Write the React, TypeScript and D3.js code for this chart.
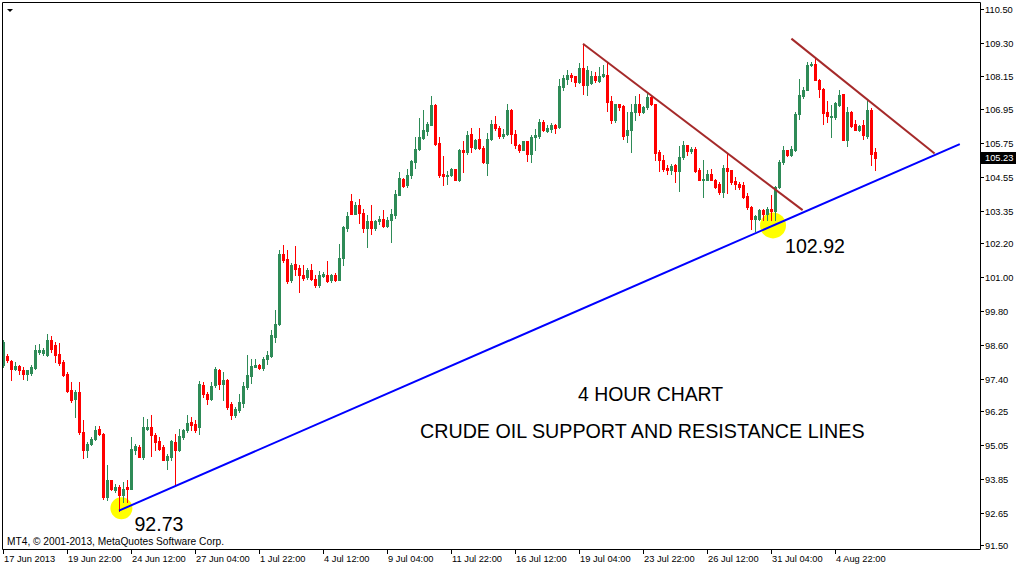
import React, { useEffect } from "react";
import * as d3 from "d3";

// [open, high, low, close] for each 4H bar, oldest first
const candles: [number, number, number, number][] = [
  [97.88, 98.79, 97.82, 98.71], [98.2, 98.29, 98.0, 98.08], [98.05, 98.08, 97.35, 97.76], [97.76, 98.0, 97.7, 97.84],
  [97.84, 97.88, 97.58, 97.73], [97.73, 97.82, 97.41, 97.58], [97.58, 97.72, 97.35, 97.7], [97.6, 97.88, 97.55, 97.82],
  [97.8, 98.59, 97.76, 98.41], [98.36, 98.65, 98.29, 98.44], [98.3, 98.5, 98.25, 98.44], [98.24, 98.98, 98.2, 98.79],
  [98.77, 98.91, 98.35, 98.47], [98.59, 98.71, 98.0, 98.24], [98.29, 98.67, 97.88, 97.96], [98.0, 98.08, 97.49, 97.53],
  [97.58, 97.64, 96.94, 96.97], [96.99, 97.29, 96.58, 96.66], [96.7, 97.0, 96.05, 96.94], [96.94, 97.29, 95.46, 95.52],
  [95.52, 95.93, 94.61, 94.87], [94.87, 95.16, 94.63, 95.08], [95.08, 95.34, 95.04, 95.28], [95.26, 95.72, 95.22, 95.58],
  [95.62, 95.72, 95.4, 95.46], [95.46, 95.48, 93.15, 93.21], [93.21, 94.33, 93.09, 93.8], [93.8, 93.83, 93.45, 93.51],
  [93.45, 93.69, 93.39, 93.57], [93.57, 93.63, 92.73, 93.27], [93.27, 93.74, 93.04, 93.51], [93.57, 93.83, 93.04, 93.48],
  [93.51, 95.34, 93.51, 94.93], [94.87, 95.1, 94.75, 95.01], [94.98, 95.04, 94.63, 94.63], [94.63, 96.05, 94.57, 95.69],
  [95.64, 95.99, 95.58, 95.69], [95.69, 96.11, 94.65, 95.4], [95.4, 95.48, 94.87, 95.16], [95.2, 95.34, 94.87, 94.93],
  [94.98, 95.04, 94.51, 94.51], [94.54, 94.75, 94.22, 94.66], [94.63, 95.22, 94.51, 95.2], [95.16, 95.46, 93.63, 94.87],
  [94.87, 95.64, 94.85, 95.36], [95.34, 95.64, 95.28, 95.6], [95.58, 96.11, 95.52, 95.84], [95.87, 96.05, 95.58, 95.75],
  [95.79, 95.93, 95.52, 95.58], [95.69, 97.33, 95.46, 97.23], [97.17, 97.29, 96.76, 96.88], [96.88, 96.94, 96.5, 96.7],
  [96.7, 97.29, 96.64, 97.14], [97.17, 97.82, 97.11, 97.76], [97.73, 97.76, 97.05, 97.23], [97.21, 97.64, 96.64, 97.35],
  [97.35, 97.41, 96.34, 96.4], [96.52, 96.58, 95.99, 96.11], [96.11, 96.4, 96.05, 96.34], [96.3, 96.85, 96.23, 96.58],
  [96.54, 97.29, 96.4, 97.13], [97.11, 98.23, 97.05, 97.52], [97.49, 98.12, 97.25, 97.84], [97.82, 98.12, 97.82, 97.88],
  [97.88, 97.94, 97.76, 97.78], [97.78, 98.17, 97.7, 98.12], [98.09, 98.39, 97.91, 98.23], [98.2, 99.12, 98.17, 98.94],
  [98.9, 99.83, 98.71, 99.36], [99.33, 101.98, 99.3, 101.82], [101.82, 102.13, 101.54, 101.6], [101.64, 101.96, 100.8, 100.86],
  [100.89, 101.51, 100.83, 101.42], [101.46, 102.1, 101.07, 101.31], [101.34, 101.42, 100.48, 101.07], [101.07, 101.42, 100.92, 100.99],
  [101.01, 101.34, 100.95, 101.25], [101.25, 101.46, 100.92, 100.93], [100.95, 101.07, 100.66, 100.71], [100.71, 101.22, 100.66, 101.07],
  [101.05, 101.19, 101.01, 101.13], [101.07, 101.57, 100.83, 100.86], [100.89, 101.13, 100.83, 101.09], [101.07, 101.15, 100.87, 100.89],
  [100.91, 102.17, 100.89, 101.7], [101.68, 102.81, 101.42, 102.78], [102.73, 103.31, 102.64, 103.16], [103.69, 103.94, 103.23, 103.26],
  [103.26, 103.67, 103.23, 103.55], [103.55, 103.76, 102.93, 103.28], [103.29, 103.41, 102.61, 102.75], [102.75, 103.2, 102.07, 102.98],
  [102.98, 103.55, 102.52, 102.75], [102.75, 103.04, 102.69, 102.98], [102.98, 103.16, 102.88, 103.05], [103.05, 103.37, 102.78, 102.81],
  [102.81, 103.12, 102.78, 103.02], [103.02, 103.43, 102.25, 103.23], [103.2, 104.08, 103.11, 103.94], [103.9, 104.73, 103.9, 104.52],
  [104.47, 104.52, 104.2, 104.23], [104.26, 104.83, 104.2, 104.64], [104.62, 105.15, 104.53, 105.11], [105.09, 105.97, 104.87, 105.56],
  [105.54, 106.65, 105.5, 105.97], [105.95, 106.92, 105.92, 106.21], [106.18, 106.51, 106.03, 106.42], [106.41, 107.42, 106.39, 107.1],
  [107.1, 107.13, 105.68, 105.74], [105.77, 105.97, 104.56, 104.61], [104.65, 105.29, 104.26, 104.58], [104.6, 104.76, 104.3, 104.64],
  [104.61, 104.88, 104.58, 104.85], [104.83, 104.85, 104.44, 104.44], [104.44, 105.56, 104.41, 105.5], [105.53, 105.82, 104.73, 105.44],
  [105.44, 106.18, 105.38, 106.03], [106.07, 106.3, 105.44, 105.62], [105.59, 105.91, 105.56, 105.85], [105.89, 106.3, 105.56, 105.59],
  [105.59, 105.64, 105.05, 105.09], [105.05, 106.11, 104.61, 105.91], [105.91, 106.59, 105.88, 106.42], [106.42, 106.71, 106.23, 106.3],
  [106.3, 106.35, 105.95, 106.0], [106.0, 106.27, 105.95, 106.09], [106.07, 107.13, 106.03, 106.94], [106.94, 106.98, 105.76, 106.07],
  [106.07, 106.23, 105.59, 105.68], [105.68, 105.71, 105.44, 105.5], [105.5, 105.82, 105.5, 105.82], [105.82, 105.82, 105.14, 105.36],
  [105.36, 106.03, 105.09, 105.97], [105.97, 106.27, 105.5, 106.03], [106.0, 106.62, 105.95, 106.5], [106.5, 106.56, 106.18, 106.21],
  [106.18, 106.39, 106.15, 106.3], [106.27, 106.47, 106.15, 106.39], [106.39, 106.45, 106.11, 106.3], [106.33, 108.04, 106.3, 107.77],
  [107.74, 108.16, 107.63, 108.08], [108.04, 108.34, 107.86, 108.16], [108.18, 108.24, 107.96, 108.1], [108.12, 108.12, 107.77, 107.92],
  [107.92, 108.6, 107.89, 108.43], [108.43, 109.28, 107.49, 107.8], [107.8, 108.48, 107.45, 108.36], [107.89, 108.31, 107.86, 108.12],
  [108.12, 108.28, 107.92, 107.98], [107.96, 108.45, 107.92, 108.12], [108.12, 108.51, 108.1, 108.22], [108.16, 108.63, 106.89, 107.21],
  [107.24, 107.41, 106.47, 106.56], [106.59, 107.15, 106.5, 107.13], [107.13, 107.15, 106.94, 107.04], [107.07, 107.1, 105.91, 106.0],
  [106.03, 106.86, 105.79, 106.21], [106.21, 107.15, 105.44, 106.86], [106.86, 107.41, 106.56, 107.13], [107.13, 107.51, 106.74, 106.86],
  [106.86, 107.06, 106.82, 107.04], [107.04, 107.53, 106.98, 107.39], [107.39, 107.45, 107.1, 107.13], [107.13, 107.15, 105.17, 105.41],
  [105.44, 105.5, 104.77, 105.15], [105.17, 105.32, 104.77, 104.85], [104.88, 104.97, 104.67, 104.81], [104.81, 105.03, 104.67, 104.93],
  [104.97, 105.03, 104.38, 104.77], [104.77, 105.64, 104.06, 105.26], [105.26, 105.82, 105.21, 105.7], [105.68, 105.7, 105.32, 105.48],
  [105.47, 105.62, 105.41, 105.56], [105.56, 105.62, 104.73, 104.77], [104.79, 104.88, 104.44, 104.46], [104.46, 105.17, 103.85, 104.5],
  [104.46, 104.81, 104.44, 104.65], [104.67, 104.85, 104.44, 104.46], [104.46, 104.5, 104.18, 104.2], [104.32, 104.38, 103.97, 104.02],
  [104.02, 104.97, 103.85, 104.88], [104.88, 105.36, 103.99, 104.77], [104.79, 104.81, 104.32, 104.38], [104.41, 104.56, 104.14, 104.3],
  [104.32, 104.38, 104.14, 104.2], [104.26, 104.38, 103.82, 103.85], [103.87, 103.99, 103.43, 103.49], [103.49, 103.52, 102.72, 103.08],
  [103.08, 103.2, 102.64, 103.16], [103.08, 103.43, 103.04, 103.37], [103.4, 103.43, 103.02, 103.26], [103.26, 103.49, 103.02, 103.43],
  [103.43, 103.91, 103.02, 103.35], [103.35, 104.22, 103.02, 104.2], [104.2, 105.15, 104.18, 105.09], [105.08, 105.64, 105.03, 105.5],
  [105.5, 105.53, 105.29, 105.32], [105.32, 105.64, 105.29, 105.56], [105.5, 106.86, 105.48, 106.8], [106.8, 108.04, 106.62, 107.45],
  [107.42, 107.75, 107.37, 107.65], [107.63, 108.63, 107.63, 108.51], [108.51, 108.63, 108.48, 108.57], [108.57, 108.79, 107.98, 108.01],
  [107.98, 108.04, 107.39, 107.69], [107.69, 107.72, 106.42, 106.83], [106.86, 107.25, 106.51, 106.71], [106.68, 107.1, 105.99, 106.73],
  [106.68, 107.21, 106.62, 107.18], [107.1, 107.65, 107.06, 107.45], [107.49, 107.51, 105.86, 105.88], [105.88, 107.04, 105.64, 106.86],
  [106.86, 106.89, 106.33, 106.35], [106.42, 106.56, 106.21, 106.21], [106.21, 106.39, 106.19, 106.35], [106.39, 106.56, 105.91, 106.03],
  [106.0, 107.3, 105.95, 106.94], [106.94, 107.01, 104.97, 105.38], [105.44, 105.6, 104.81, 105.23],
];

const priceTicks: string[] = [
  "110.50", "109.30", "108.15", "106.95", "105.75", "104.55", "103.35", "102.20", "101.00",
  "99.80", "98.60", "97.40", "96.25", "95.05", "93.85", "92.65", "91.50",
];

const timeLabels: string[] = [
  "17 Jun 2013", "19 Jun 22:00", "24 Jun 12:00", "27 Jun 04:00", "1 Jul 22:00", "4 Jul 12:00", "9 Jul 04:00",
  "11 Jul 22:00", "16 Jul 12:00", "19 Jul 04:00", "23 Jul 22:00", "26 Jul 12:00", "31 Jul 04:00", "4 Aug 22:00",
];
const barsPerTimeLabel = 16;

// trend lines: [barIndex, price]
const supportLine: [number, number][] = [[29, 92.73], [239.2, 105.72]];
const resistanceLines: [number, number][][] = [
  [[145, 109.28], [199.9, 103.38]],
  [[197.1, 109.46], [232.9, 105.39]],
];
// highlighted points: [barIndex, price, radius, label]
const markers: { bar: number; price: number; r: number; label: string }[] = [
  { bar: 29.6, price: 92.81, r: 11, label: "92.73" },
  { bar: 192.5, price: 102.84, r: 13, label: "102.92" },
];
const lastPrice = 105.23;
const titleLines = ["4 HOUR CHART", "CRUDE OIL SUPPORT AND RESISTANCE LINES"];

const W = 1020;
const H = 567;
const plotLeft = 2;
const plotTop = 2;
const plotRight = 980;
const plotBottom = 549;

const BULL = "#2e8b57";
const BEAR = "#ff0000";
const AXIS_FONT = "'Liberation Sans', Arial, sans-serif";
const BIG_FONT = "Arial, 'Liberation Sans', sans-serif";

export default function App() {
  useEffect(() => {
    document.body.style.margin = "0";
  }, []);

  const x = d3.scaleLinear().domain([0, 1]).range([3, 7]);
  const y = d3.scaleLinear().domain([91.5, 110.5]).range([545.3, 9.3]);
  const line = d3
    .line<[number, number]>()
    .x((d) => x(d[0]))
    .y((d) => y(d[1]));

  return (
    <svg
      width={W}
      height={H}
      style={{ display: "block", position: "absolute", left: 0, top: 0, background: "#fff" }}
    >
      <rect x={0} y={0} width={W} height={H} fill="#fff" />
      <defs>
        <clipPath id="plot">
          <rect x={plotLeft} y={plotTop} width={plotRight - plotLeft} height={plotBottom - plotTop} />
        </clipPath>
      </defs>

      <g clipPath="url(#plot)">
        {markers.map((m, i) => (
          <circle key={"c" + i} cx={x(m.bar)} cy={y(m.price)} r={m.r} fill="#ffff00" />
        ))}

        {candles.map(([o, h, l, c], i) => {
          const cx = Math.round(x(i));
          const col = c >= o ? BULL : BEAR;
          const yTop = Math.round(y(Math.max(o, c)));
          const yBot = Math.round(y(Math.min(o, c)));
          const yH = Math.round(y(h));
          const yL = Math.round(y(l));
          return (
            <g key={i}>
              <rect x={cx} y={yH} width={1} height={Math.max(1, yL - yH + 1)} fill={col} />
              <rect x={cx - 1} y={yTop} width={3} height={Math.max(1, yBot - yTop + 1)} fill={col} />
            </g>
          );
        })}

        <path d={line(supportLine) || ""} stroke="#0000ff" strokeWidth={2} fill="none" />
        {resistanceLines.map((rl, i) => (
          <path key={"r" + i} d={line(rl) || ""} stroke="#a52a2a" strokeWidth={2} fill="none" />
        ))}
      </g>

      <path
        d={`M${plotLeft + 0.5},${plotBottom + 0.5} V${plotTop + 0.5} H${plotRight + 0.5} V${plotBottom + 0.5} Z`}
        fill="none"
        stroke="#000"
        strokeWidth={1}
      />
      <path d="M7,9 L13,9 L10,12 Z" fill="#000" />

      {priceTicks.map((t) => {
        const ty = Math.round(y(+t)) + 0.5;
        return (
          <g key={t}>
            <line x1={plotRight + 1} x2={plotRight + 4} y1={ty} y2={ty} stroke="#000" />
            <text x={985} y={ty} dy="0.35em" fontFamily={AXIS_FONT} fontSize={9.3} fill="#000">
              {t}
            </text>
          </g>
        );
      })}
      <rect x={980} y={Math.round(y(lastPrice)) - 6} width={36} height={12} fill="#000" />
      <text x={985} y={Math.round(y(lastPrice))} dy="0.35em" fontFamily={AXIS_FONT} fontSize={9.3} fill="#fff">
        {lastPrice.toFixed(2)}
      </text>

      {timeLabels.map((t, i) => {
        const tx = Math.round(x(i * barsPerTimeLabel)) + 0.5;
        return (
          <g key={t}>
            <line x1={tx} x2={tx} y1={plotBottom + 1} y2={plotBottom + 5} stroke="#000" />
            <text x={tx + 0.5} y={562} fontFamily={AXIS_FONT} fontSize={9.3} fill="#000">
              {t}
            </text>
          </g>
        );
      })}

      <text x={7} y={545} fontFamily={AXIS_FONT} fontSize={10.2} fill="#000">
        MT4, © 2001-2013, MetaQuotes Software Corp.
      </text>

      <text x={x(markers[0].bar) + 13} y={y(markers[0].price) + 23} fontFamily={BIG_FONT} fontSize={19.6} fill="#000">
        {markers[0].label}
      </text>
      <text x={x(markers[1].bar) + 12} y={y(markers[1].price) + 28} fontFamily={BIG_FONT} fontSize={19.6} fill="#000">
        {markers[1].label}
      </text>
      <text x={578} y={401} fontFamily={BIG_FONT} fontSize={19.4} fill="#000">
        {titleLines[0]}
      </text>
      <text x={420} y={438} fontFamily={BIG_FONT} fontSize={19.7} fill="#000">
        {titleLines[1]}
      </text>
    </svg>
  );
}
